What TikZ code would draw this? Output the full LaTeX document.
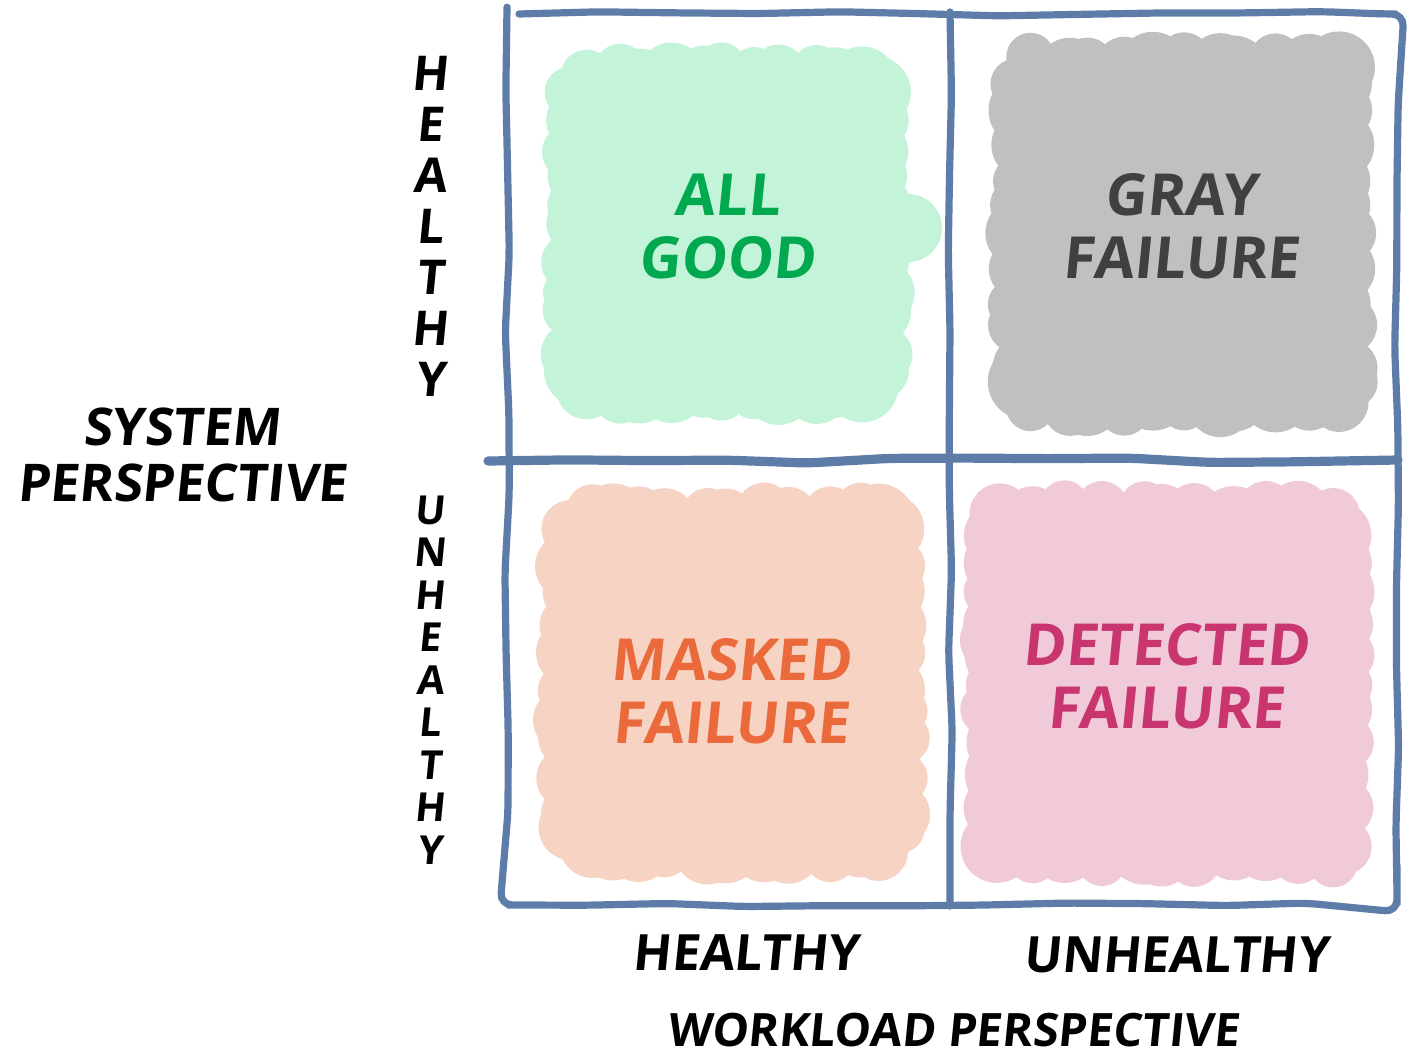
\documentclass[tikz,border=0pt]{standalone}
\usepackage{fontspec}
\setmainfont{Open Sans}[FakeSlant=0.1]
\usetikzlibrary{decorations.pathmorphing}

\definecolor{gridblue}{HTML}{5E7CA8}
\definecolor{goodfill}{HTML}{C3F3D8}
\definecolor{goodtext}{HTML}{00A84F}
\definecolor{grayfill}{HTML}{C0C0C0}
\definecolor{graytext}{HTML}{404040}
\definecolor{maskfill}{HTML}{F7D3C4}
\definecolor{masktext}{HTML}{EA6A3C}
\definecolor{detfill}{HTML}{F0CAD9}
\definecolor{dettext}{HTML}{C8356F}

\tikzset{
  grid line/.style={draw=gridblue, line width=3.6pt, line cap=round,
    decorate, decoration={random steps, segment length=40pt, amplitude=1.2pt},
    rounded corners=6pt},
  cell text/.style={font=\fontsize{29}{31.5}\selectfont\bfseries, align=center},
  side text/.style={font=\fontsize{26}{28}\selectfont\bfseries, align=center},
  axis text/.style={font=\fontsize{25}{27}\selectfont\bfseries, align=center},
}

% cloud of circles filling x1,y1 -- x2,y2
\newcommand{\cloud}[5]{%
  \fill[#1] (#2+40,#3+40) rectangle (#4-40,#5-40);
  \foreach \i in {0,...,10}{
    \pgfmathsetmacro{\px}{#2+48+(#4-#2-96)*\i/10+10*rand}
    \pgfmathsetmacro{\py}{#3+48+(#5-#3-96)*\i/10+10*rand}
    \pgfmathsetmacro{\ra}{24+14*rnd}
    \pgfmathsetmacro{\rb}{24+14*rnd}
    \pgfmathsetmacro{\rc}{24+14*rnd}
    \pgfmathsetmacro{\rd}{24+14*rnd}
    \fill[#1] (\px,#3+\ra+8*rnd) circle (\ra);
    \fill[#1] (\px,#5-\rb-8*rnd) circle (\rb);
    \fill[#1] (#2+\rc+8*rnd,\py) circle (\rc);
    \fill[#1] (#4-\rd-8*rnd,\py) circle (\rd);
  }
}

\begin{document}
\begin{tikzpicture}[x=0.5pt, y=-0.5pt]
\pgfmathsetseed{7}
\useasboundingbox (0,0) rectangle (1410,1061);

% blobs
\cloud{goodfill}{540}{42}{915}{425}
\fill[goodfill] (908,228) circle (34);
\cloud{grayfill}{985}{30}{1378}{438}
\cloud{maskfill}{535}{482}{932}{885}
\fill[maskfill] (565,720) circle (32);
\cloud{detfill}{960}{480}{1375}{888}
\fill[detfill] (992,640) circle (32);

% grid
\coordinate (tl) at (507,14);
\coordinate (tr) at (1397,14);
\coordinate (br) at (1397,905);
\coordinate (bl) at (507,905);
\coordinate (tm) at (950,12);
\coordinate (bm) at (950,906);
\coordinate (ml) at (488,461);
\coordinate (mr) at (1398,460);
\draw[grid line] (tl) -- (tr) -- (br) -- (bl) -- cycle;
\draw[grid line] (tm) -- (bm);
\draw[grid line, line width=4.6pt] (ml) -- (mr);

% cell labels
\node[cell text, text=goodtext] (allgood) at (727,226) {ALL\\GOOD};
\node[cell text, text=graytext] (gray) at (1181,226) {GRAY\\FAILURE};
\node[cell text, text=masktext] (masked) at (731,691) {MASKED\\FAILURE};
\node[cell text, text=dettext] (detected) at (1166,676) {DETECTED\\FAILURE};

% system axis
\node[side text] (system) at (182,455) {SYSTEM\\PERSPECTIVE};
\node[font=\fontsize{24}{25.5}\selectfont\bfseries, align=center] (syshealthy) at (430,226)
  {H\\E\\A\\L\\T\\H\\Y};
\node[font=\fontsize{20}{21.25}\selectfont\bfseries, align=center] (sysunhealthy) at (430,680)
  {U\\N\\H\\E\\A\\L\\T\\H\\Y};

% workload axis
\node[axis text] (wlhealthy) at (746,953) {HEALTHY};
\node[axis text] (wlunhealthy) at (1176,955) {UNHEALTHY};
\node[axis text, font=\fontsize{23}{25}\selectfont\bfseries] (workload) at (953,1030) {WORKLOAD PERSPECTIVE};
\end{tikzpicture}
\end{document}
